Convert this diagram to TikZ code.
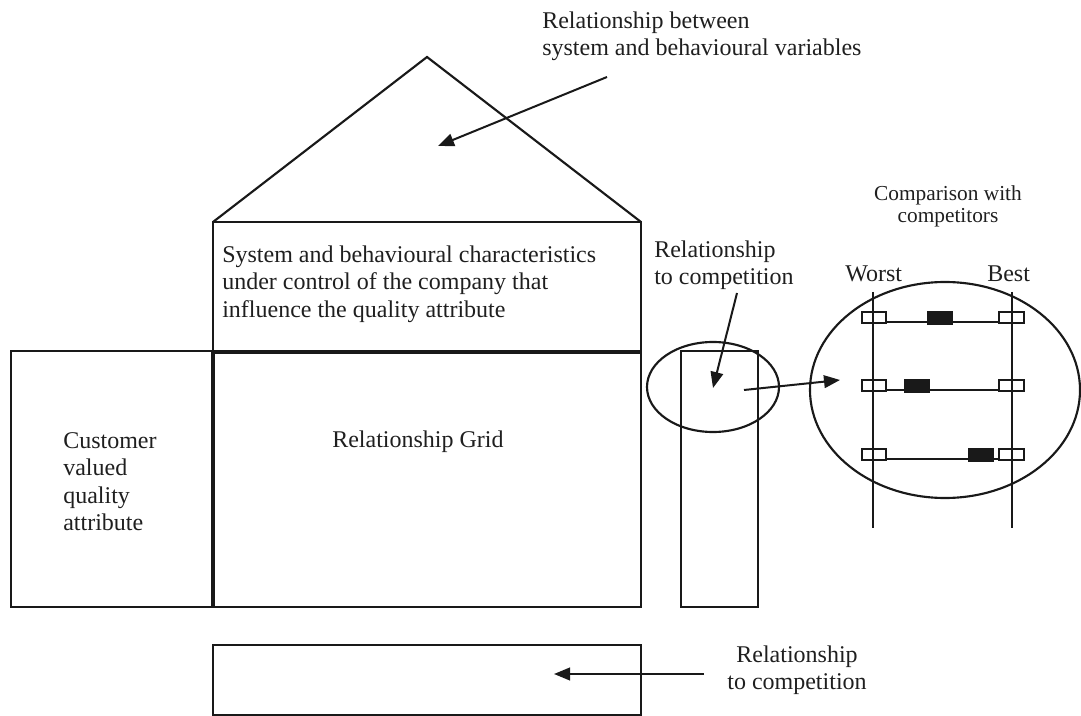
\documentclass[tikz,border=0pt]{standalone}
\usepackage{fontspec}
\setmainfont{Liberation Serif}
\usetikzlibrary{arrows.meta}
\begin{document}
\begin{tikzpicture}[x=0.75pt,y=-0.75pt,
  box/.style={draw=black!90, line width=1.6pt},
  thin/.style={draw=black!90, line width=1.3pt},
  conn/.style={draw=black!90, line width=1.5pt, -{Triangle[length=12pt,width=9.5pt]}},
  txt/.style={inner sep=0pt, text=black!88, font=\fontsize{18}{20.6}\selectfont},
  smalltxt/.style={inner sep=0pt, text=black!88, font=\fontsize{16}{16.5}\selectfont},
  openbox/.style={draw=black!90, line width=1.3pt},
  fullbox/.style={draw=black!90, line width=0.6pt, fill=black!90}]
\useasboundingbox (0,0) rectangle (1081,716);

% house
\draw[box] (213,222) -- (427,57) -- (641,222);
\draw[box] (213,222) rectangle (641,351);
\draw[box] (214,353) rectangle (641,607);
\draw[box] (11,351) rectangle (212,607);
\draw[box] (681,351) rectangle (758,607);
\draw[box] (213,645) rectangle (641,715);

% ellipses
\draw[box] (713,387) ellipse [x radius=66, y radius=45];
\draw[box] (945,390) ellipse [x radius=135, y radius=108];

% texts
\node[txt, anchor=north west, align=left] (roofTxt) at (542,11.6)
  {Relationship between\\system and behavioural variables};
\node[txt, anchor=north west, align=left] (sysTxt) at (222,245.6)
  {System and behavioural characteristics\\under control of the company that\\influence the quality attribute};
\node[txt, anchor=north west, align=left] (compTxtA) at (654,240.6)
  {Relationship\\to competition};
\node[txt, anchor=north west, align=left] (custTxt) at (63,432)
  {Customer\\valued\\quality\\attribute};
\node[txt, anchor=base west] (gridTxt) at (332,447) {Relationship Grid};
\node[txt, anchor=north, align=center] (compTxtB) at (797,645.6)
  {Relationship\\to competition};
\node[smalltxt, anchor=north, align=center] (cmpTxt) at (948,185.4)
  {Comparison with\\competitors};
\node[txt, anchor=base west] (worstTxt) at (845,282) {Worst};
\node[txt, anchor=base west] (bestTxt) at (987,282) {Best};

% scale lines
\draw[thin] (873,292) -- (873,528);
\draw[thin] (1012,292) -- (1012,528);

% rows
\foreach \t/\f in {312/927, 380/904, 449/968}{
  \draw[thin] (886,\t+10) -- (999,\t+10);
  \draw[openbox] (862,\t) rectangle (886,\t+11);
  \draw[openbox] (999,\t) rectangle (1024,\t+11);
  \draw[fullbox] (\f,\t-1) rectangle (\f+25,\t+12);
}

% arrow end points
\coordinate (a1s) at (607,77);
\coordinate (a1e) at (438,146);
\coordinate (a2s) at (737,293);
\coordinate (a2e) at (713,388);
\coordinate (a3s) at (744,390);
\coordinate (a3e) at (840,380);
\coordinate (a4s) at (704,674);
\coordinate (a4e) at (554,674);

\draw[conn] (a1s) -- (a1e);
\draw[conn] (a2s) -- (a2e);
\draw[conn] (a3s) -- (a3e);
\draw[conn] (a4s) -- (a4e);
\end{tikzpicture}
\end{document}
